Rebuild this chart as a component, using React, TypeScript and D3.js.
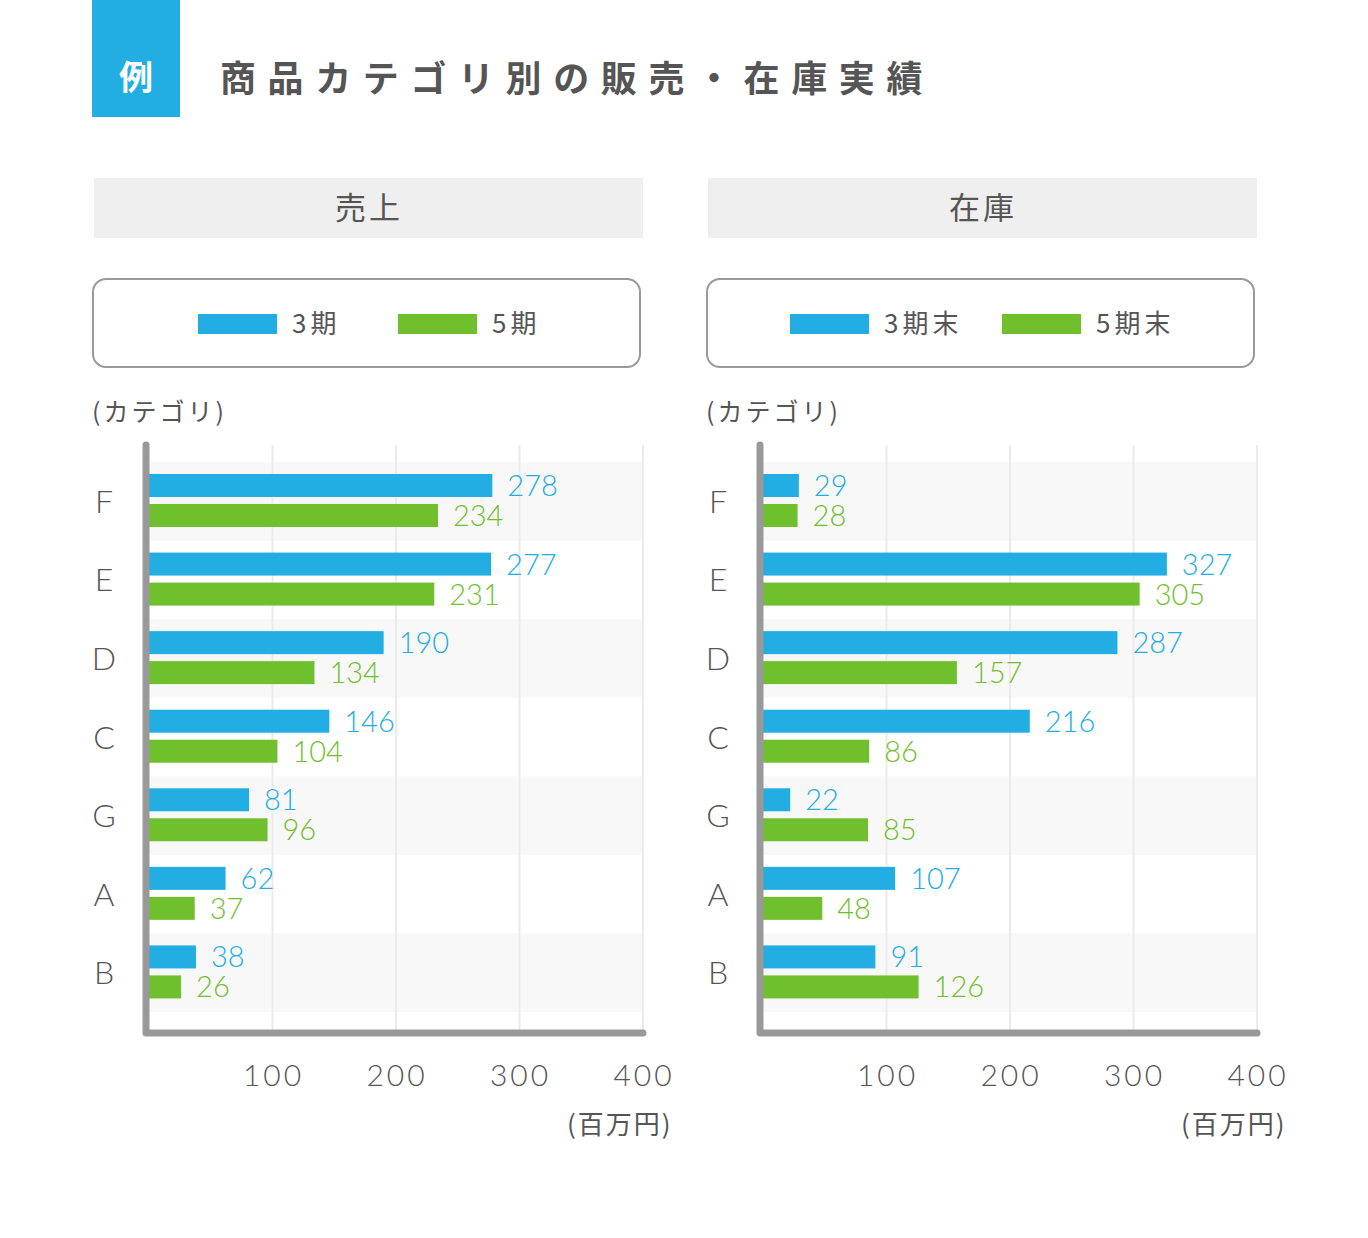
import React from "react";
import * as d3 from "d3";

const categories = ["F", "E", "D", "C", "G", "A", "B"];
const sales3 = [278, 277, 190, 146, 81, 62, 38];
const sales5 = [234, 231, 134, 104, 96, 37, 26];
const stock3 = [29, 327, 287, 216, 22, 107, 91];
const stock5 = [28, 305, 157, 86, 85, 48, 126];
const ticks = [100, 200, 300, 400];

const BLUE = "#22ade3";
const GREEN = "#70bf2d";
const GRAY = "#555";
const JP = "'Noto Sans CJK JP', 'Noto Sans', sans-serif";
const NUM = "Lato, 'Noto Sans', sans-serif";

type PanelProps = {
  x0: number;
  header: string;
  legend: [string, string];
  a: number[];
  b: number[];
};

function Panel({ x0, header, legend, a, b }: PanelProps) {
  const zeroX = x0 + 56;
  const x = d3.scaleLinear().domain([0, 400]).range([zeroX, zeroX + 494]);
  const y = d3.scaleBand<string>().domain(categories).range([462, 1012]).padding(0);
  const bw = y.bandwidth();
  const barH = 23;
  const top = 12;
  const gap = 7;
  return (
    <g>
      <rect x={x0 + 1} y={178} width={549} height={60} fill="#efefef" />
      <text x={x0 + 276} y={219} textAnchor="middle" fontFamily={JP} fontSize={31} fill={GRAY} letterSpacing={3}>
        {header}
      </text>
      <rect x={x0} y={279} width={547} height={88} rx={13} fill="#fff" stroke="#9a9a9a" strokeWidth={2} />
      <LegendItems x0={x0} legend={legend} />
      <text x={x0 - 1} y={421} fontFamily={JP} fontSize={25} fill={GRAY} letterSpacing={3}>
        (カテゴリ)
      </text>
      {categories.map((c, i) =>
        i % 2 === 0 ? (
          <rect key={"bg" + c} x={zeroX} y={y(c)!} width={x(400) - zeroX} height={bw} fill="#f8f8f8" />
        ) : null
      )}
      {ticks.map((t) => (
        <line key={"g" + t} x1={x(t)} x2={x(t)} y1={445} y2={1033} stroke="#ebebeb" strokeWidth={2} />
      ))}
      {categories.map((c, i) => {
        const by = y(c)!;
        return (
          <g key={"bar" + c}>
            <rect x={zeroX} y={by + top} width={x(a[i]) - zeroX} height={barH} fill={BLUE} />
            <rect x={zeroX} y={by + top + barH + gap} width={x(b[i]) - zeroX} height={barH} fill={GREEN} />
            <text x={x(a[i]) + 15} y={by + top + barH / 2} dy="0.36em" fontFamily={NUM} fontWeight={300} fontSize={29} fill={BLUE}>
              {a[i]}
            </text>
            <text x={x(b[i]) + 15} y={by + top + barH + gap + barH / 2} dy="0.36em" fontFamily={NUM} fontWeight={300} fontSize={29} fill={GREEN}>
              {b[i]}
            </text>
            <text x={x0 + 11} y={by + bw / 2} dy="0.36em" textAnchor="middle" fontFamily={NUM} fontWeight={300} fontSize={32} fill={GRAY}>
              {c}
            </text>
          </g>
        );
      })}
      <path
        d={`M${zeroX - 3},445 L${zeroX - 3},1033 L${x(400)},1033`}
        fill="none"
        stroke="#999"
        strokeWidth={7}
        strokeLinecap="round"
        strokeLinejoin="round"
      />
      {ticks.map((t) => (
        <text key={"t" + t} x={x(t) + 1} y={1086} textAnchor="middle" fontFamily={NUM} fontWeight={300} fontSize={30} fill={GRAY} letterSpacing={3}>
          {t}
        </text>
      ))}
      <text x={x0 + 474} y={1134} fontFamily={JP} fontSize={26} fill={GRAY} letterSpacing={2}>
        (百万円)
      </text>
    </g>
  );
}

function LegendItems({ x0, legend }: { x0: number; legend: [string, string] }) {
  const isLong = legend[0].length > 2;
  const s1 = isLong ? x0 + 83 : x0 + 105;
  const s2 = isLong ? x0 + 295 : x0 + 305;
  return (
    <g>
      <rect x={s1} y={314} width={79} height={20} fill={BLUE} />
      <text x={s1 + 94} y={333} fontFamily={JP} fontSize={26} fill={GRAY} letterSpacing={4}>
        {legend[0]}
      </text>
      <rect x={s2} y={314} width={79} height={20} fill={GREEN} />
      <text x={s2 + 94} y={333} fontFamily={JP} fontSize={26} fill={GRAY} letterSpacing={4}>
        {legend[1]}
      </text>
    </g>
  );
}

export default function App() {
  return (
    <svg width={1368} height={1238} style={{ display: "block", position: "absolute", left: 0, top: 0 }}>
      <rect width={1368} height={1238} fill="#fff" />
      <rect x={92} y={0} width={88} height={117} fill={BLUE} />
      <text x={136} y={90} textAnchor="middle" fontFamily={JP} fontWeight={700} fontSize={34} fill="#fff">
        例
      </text>
      <text x={220} y={92} fontFamily={JP} fontWeight={700} fontSize={36} fill={GRAY} letterSpacing={11.6}>
        商品カテゴリ別の販売・在庫実績
      </text>
      <Panel x0={93} header="売上" legend={["3期", "5期"]} a={sales3} b={sales5} />
      <Panel x0={707} header="在庫" legend={["3期末", "5期末"]} a={stock3} b={stock5} />
    </svg>
  );
}
